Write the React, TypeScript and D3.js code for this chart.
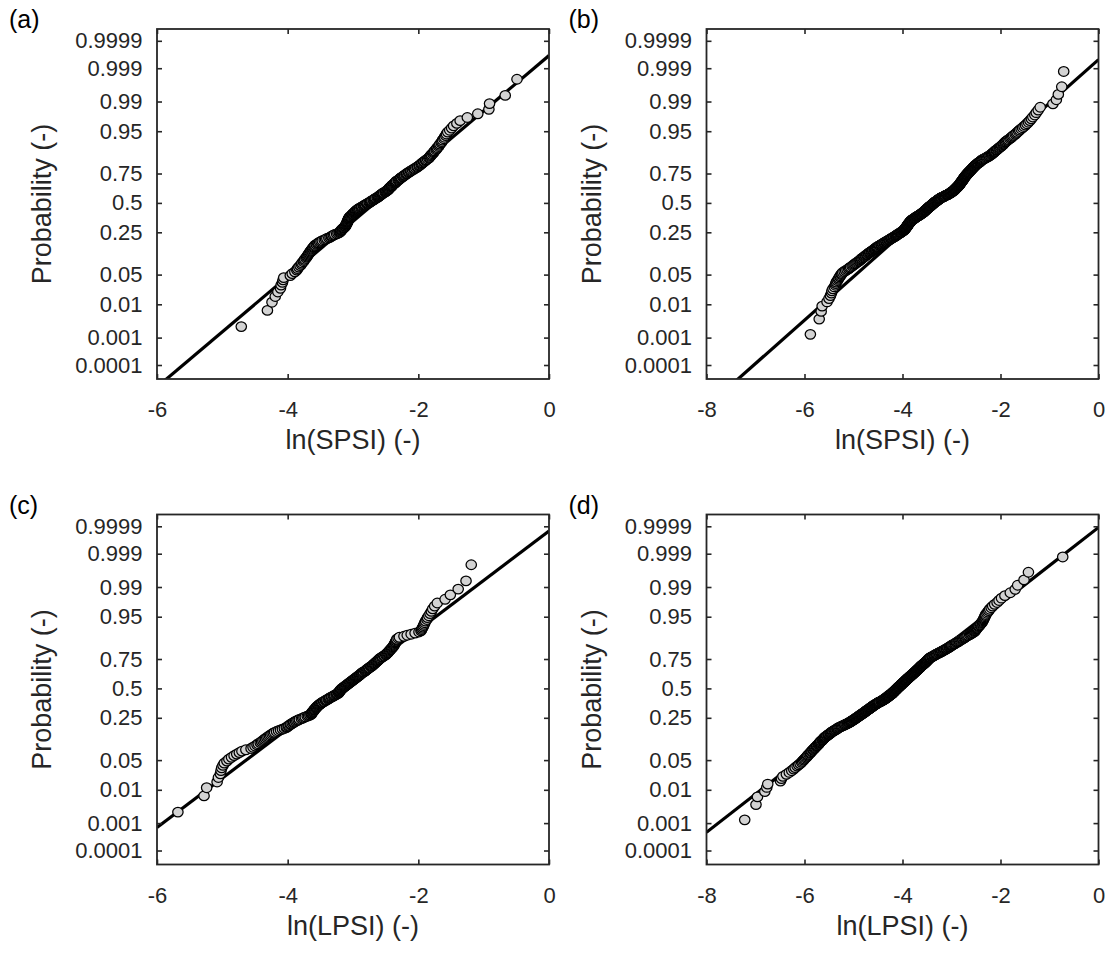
import { useEffect, useRef } from "react";
import * as d3 from "d3";

// probability ticks (normal probability paper)
const probTicks = [0.0001, 0.001, 0.01, 0.05, 0.25, 0.5, 0.75, 0.95, 0.99, 0.999, 0.9999];
const probLabels = ["0.0001", "0.001", "0.01", "0.05", "0.25", "0.5", "0.75", "0.95", "0.99", "0.999", "0.9999"];
const xTicksSix = [-6, -4, -2, 0];
const xTicksEight = [-8, -6, -4, -2, 0];

const panelTags = ["(a)", "(b)", "(c)", "(d)"];
const xTitles = ["ln(SPSI) (-)", "ln(SPSI) (-)", "ln(LPSI) (-)", "ln(LPSI) (-)"];
const xMins = [-6, -8, -6, -8];

// fitted reference line (mean, sd of ln values)
const fitMu = [-2.667, -3.3, -3.185, -4.224];
const fitSigma = [0.789, 1.004, 0.882, 1.144];

// sorted ln(SPSI), dataset 1
const spsiA = [
  -4.71, -4.31, -4.24, -4.19, -4.15, -4.11, -4.10, -4.08, -4.07, -4.06,
  -3.96, -3.93, -3.89, -3.86, -3.85, -3.83, -3.81, -3.79, -3.78, -3.76,
  -3.75, -3.74, -3.72, -3.71, -3.70, -3.69, -3.68, -3.67, -3.66, -3.65,
  -3.64, -3.63, -3.62, -3.61, -3.60, -3.59, -3.58, -3.56, -3.54, -3.53,
  -3.51, -3.49, -3.47, -3.44, -3.42, -3.40, -3.37, -3.35, -3.33, -3.32,
  -3.30, -3.28, -3.25, -3.23, -3.21, -3.20, -3.19, -3.18, -3.18, -3.17,
  -3.16, -3.15, -3.14, -3.13, -3.12, -3.12, -3.11, -3.11, -3.10, -3.10,
  -3.09, -3.09, -3.09, -3.08, -3.08, -3.08, -3.07, -3.07, -3.07, -3.06,
  -3.06, -3.05, -3.05, -3.04, -3.03, -3.02, -3.01, -3.00, -3.00, -2.99,
  -2.98, -2.97, -2.96, -2.96, -2.95, -2.94, -2.93, -2.92, -2.91, -2.90,
  -2.88, -2.87, -2.86, -2.84, -2.83, -2.82, -2.81, -2.79, -2.78, -2.77,
  -2.75, -2.74, -2.73, -2.72, -2.71, -2.69, -2.68, -2.67, -2.66, -2.65,
  -2.63, -2.62, -2.61, -2.60, -2.59, -2.58, -2.57, -2.56, -2.55, -2.54,
  -2.53, -2.51, -2.50, -2.49, -2.48, -2.47, -2.46, -2.45, -2.45, -2.44,
  -2.43, -2.42, -2.41, -2.41, -2.40, -2.39, -2.38, -2.37, -2.36, -2.35,
  -2.34, -2.34, -2.33, -2.31, -2.30, -2.29, -2.28, -2.27, -2.26, -2.24,
  -2.23, -2.22, -2.21, -2.19, -2.18, -2.17, -2.15, -2.14, -2.12, -2.11,
  -2.09, -2.07, -2.06, -2.04, -2.02, -2.01, -1.99, -1.98, -1.96, -1.95,
  -1.94, -1.92, -1.91, -1.89, -1.88, -1.86, -1.84, -1.83, -1.82, -1.81,
  -1.80, -1.78, -1.77, -1.76, -1.75, -1.73, -1.72, -1.71, -1.69, -1.68,
  -1.67, -1.65, -1.64, -1.63, -1.61, -1.60, -1.58, -1.57, -1.55, -1.52,
  -1.49, -1.46, -1.41, -1.36, -1.25, -1.09, -0.92, -0.91, -0.67, -0.49,
];

// sorted ln(SPSI), dataset 2
const spsiB = [
  -5.88, -5.70, -5.66, -5.64, -5.54, -5.50, -5.47, -5.45, -5.44,
  -5.42, -5.39, -5.37, -5.36, -5.35, -5.33, -5.31, -5.30,
  -5.28, -5.27, -5.25, -5.24, -5.22, -5.19, -5.16, -5.13, -5.10,
  -5.08, -5.06, -5.03, -5.01, -4.99, -4.97, -4.95, -4.93, -4.91, -4.89, -4.87, -4.86,
  -4.84, -4.83, -4.81, -4.79, -4.78, -4.76, -4.75,
  -4.73, -4.72, -4.70, -4.69, -4.67, -4.66, -4.64, -4.63,
  -4.61, -4.60, -4.58, -4.57, -4.56, -4.55, -4.53, -4.52, -4.51,
  -4.49, -4.47, -4.46, -4.44, -4.43, -4.41, -4.40, -4.38, -4.37, -4.36,
  -4.34, -4.33, -4.31, -4.30, -4.28, -4.27, -4.26, -4.24, -4.23, -4.22, -4.21,
  -4.19, -4.18, -4.17, -4.15, -4.14, -4.13, -4.12, -4.11, -4.10, -4.09, -4.08,
  -4.06, -4.05, -4.04, -4.03, -4.02, -4.01, -4.00, -3.99, -3.98, -3.97, -3.96, -3.96, -3.95,
  -3.95, -3.94, -3.94, -3.93, -3.93, -3.92, -3.92, -3.91, -3.91, -3.90, -3.90, -3.89, -3.89,
  -3.89, -3.88, -3.88, -3.87, -3.87, -3.86, -3.86, -3.85, -3.85, -3.84, -3.84, -3.83, -3.83, -3.82,
  -3.82, -3.81, -3.80, -3.79, -3.78, -3.77, -3.76, -3.75, -3.74, -3.74, -3.73, -3.72, -3.71, -3.70, -3.69,
  -3.68, -3.67, -3.66, -3.65, -3.64, -3.63, -3.63, -3.62, -3.61, -3.60, -3.59, -3.58, -3.58, -3.57, -3.56,
  -3.56, -3.55, -3.54, -3.54, -3.53, -3.52, -3.52, -3.51, -3.51, -3.50, -3.49, -3.49, -3.48, -3.48, -3.47,
  -3.46, -3.46, -3.45, -3.44, -3.43, -3.43, -3.42, -3.41, -3.41, -3.40, -3.39, -3.39, -3.38, -3.37, -3.37, -3.36,
  -3.36, -3.35, -3.34, -3.33, -3.32, -3.32, -3.31, -3.30, -3.29, -3.28, -3.28, -3.27, -3.26, -3.25, -3.25, -3.24,
  -3.23, -3.22, -3.21, -3.20, -3.18, -3.17, -3.16, -3.15, -3.14, -3.13, -3.12, -3.10, -3.09, -3.08, -3.07,
  -3.06, -3.05, -3.04, -3.03, -3.02, -3.01, -3.00, -3.00, -2.99, -2.98, -2.97, -2.96, -2.95, -2.95, -2.94,
  -2.94, -2.93, -2.92, -2.92, -2.91, -2.91, -2.90, -2.89, -2.89, -2.88, -2.88, -2.87, -2.86, -2.86, -2.85,
  -2.85, -2.84, -2.84, -2.83, -2.83, -2.82, -2.82, -2.82, -2.81, -2.81, -2.80, -2.80, -2.79, -2.79,
  -2.78, -2.78, -2.77, -2.77, -2.76, -2.76, -2.76, -2.75, -2.75, -2.74, -2.74, -2.73, -2.73,
  -2.72, -2.72, -2.71, -2.71, -2.70, -2.69, -2.69, -2.68, -2.68, -2.67, -2.66, -2.66, -2.65,
  -2.64, -2.64, -2.63, -2.62, -2.61, -2.61, -2.60, -2.59, -2.59, -2.58, -2.57,
  -2.57, -2.56, -2.55, -2.54, -2.53, -2.53, -2.52, -2.51, -2.50, -2.49, -2.48,
  -2.47, -2.46, -2.45, -2.43, -2.42, -2.41, -2.40, -2.39, -2.38, -2.37,
  -2.35, -2.33, -2.31, -2.29, -2.28, -2.26, -2.24, -2.23, -2.21,
  -2.19, -2.18, -2.17, -2.16, -2.14, -2.13, -2.12, -2.11,
  -2.09, -2.08, -2.06, -2.05, -2.03, -2.02, -2.00,
  -1.98, -1.97, -1.95, -1.94, -1.93, -1.91, -1.90,
  -1.88, -1.86, -1.84, -1.81, -1.79, -1.77, -1.75, -1.73, -1.70, -1.68,
  -1.66, -1.63, -1.61, -1.58, -1.55, -1.52, -1.49, -1.46, -1.43, -1.40, -1.37, -1.34,
  -1.30, -1.27, -1.23, -1.19, -0.93, -0.86, -0.82, -0.75, -0.71,
];

// sorted ln(LPSI), dataset 1
const lpsiC = [
  -5.68, -5.28, -5.24, -5.08, -5.06, -5.03, -5.02, -5.01, -4.99, -4.97,
  -4.93, -4.90, -4.86, -4.82, -4.78, -4.74, -4.70, -4.64, -4.56, -4.53,
  -4.50, -4.47, -4.45, -4.42, -4.40, -4.38, -4.36, -4.34, -4.32, -4.30,
  -4.28, -4.26, -4.24, -4.22, -4.20, -4.17, -4.14, -4.11, -4.08, -4.05,
  -4.02, -4.01, -3.99, -3.98, -3.96, -3.95, -3.93, -3.91, -3.90, -3.88,
  -3.86, -3.84, -3.82, -3.79, -3.77, -3.75, -3.73, -3.70, -3.68, -3.66,
  -3.64, -3.64, -3.63, -3.63, -3.62, -3.61, -3.61, -3.60, -3.59, -3.59,
  -3.58, -3.57, -3.56, -3.56, -3.55, -3.54, -3.53, -3.52, -3.51, -3.50,
  -3.49, -3.48, -3.47, -3.45, -3.44, -3.42, -3.41, -3.40, -3.38, -3.37,
  -3.36, -3.35, -3.33, -3.32, -3.30, -3.29, -3.28, -3.26, -3.25, -3.24,
  -3.22, -3.22, -3.21, -3.21, -3.20, -3.20, -3.19, -3.18, -3.18, -3.17,
  -3.16, -3.15, -3.14, -3.13, -3.12, -3.11, -3.10, -3.09, -3.08, -3.07,
  -3.06, -3.05, -3.04, -3.03, -3.02, -3.01, -3.00, -2.99, -2.98, -2.97,
  -2.96, -2.95, -2.94, -2.93, -2.92, -2.91, -2.90, -2.89, -2.88, -2.87,
  -2.86, -2.85, -2.84, -2.82, -2.81, -2.80, -2.79, -2.78, -2.77, -2.76,
  -2.75, -2.73, -2.72, -2.71, -2.70, -2.69, -2.68, -2.67, -2.66, -2.65,
  -2.64, -2.63, -2.62, -2.61, -2.60, -2.59, -2.58, -2.56, -2.55, -2.53,
  -2.52, -2.50, -2.49, -2.48, -2.47, -2.46, -2.45, -2.44, -2.43, -2.42,
  -2.41, -2.40, -2.39, -2.38, -2.37, -2.37, -2.36, -2.35, -2.35, -2.34,
  -2.33, -2.33, -2.31, -2.29, -2.22, -2.17, -2.11, -2.05, -1.99, -1.96,
  -1.95, -1.94, -1.93, -1.92, -1.91, -1.90, -1.89, -1.87, -1.86, -1.84,
  -1.82, -1.80, -1.78, -1.75, -1.71, -1.59, -1.51, -1.39, -1.27, -1.19,
];

// sorted ln(LPSI), dataset 2
const lpsiD = [
  -7.22, -6.99, -6.96, -6.81, -6.77, -6.75, -6.49, -6.47, -6.44,
  -6.37, -6.31, -6.26, -6.22, -6.19, -6.15, -6.12, -6.09,
  -6.06, -6.04, -6.02, -6.00, -5.98, -5.96, -5.94, -5.93, -5.91,
  -5.89, -5.88, -5.86, -5.85, -5.83, -5.82, -5.80, -5.79, -5.78, -5.76, -5.75, -5.74,
  -5.72, -5.71, -5.70, -5.69, -5.68, -5.67, -5.66,
  -5.64, -5.63, -5.62, -5.61, -5.60, -5.59, -5.58, -5.57,
  -5.55, -5.54, -5.52, -5.51, -5.50, -5.48, -5.47, -5.46, -5.45,
  -5.43, -5.42, -5.40, -5.39, -5.37, -5.36, -5.34, -5.33, -5.32, -5.31,
  -5.29, -5.27, -5.25, -5.24, -5.22, -5.20, -5.18, -5.17, -5.15, -5.13, -5.12,
  -5.10, -5.09, -5.08, -5.06, -5.05, -5.04, -5.03, -5.02, -5.00, -4.99, -4.98,
  -4.97, -4.96, -4.95, -4.94, -4.93, -4.92, -4.91, -4.90, -4.89, -4.88, -4.87, -4.86, -4.85,
  -4.84, -4.83, -4.82, -4.81, -4.80, -4.79, -4.78, -4.77, -4.76, -4.75, -4.75, -4.74, -4.73,
  -4.72, -4.71, -4.70, -4.69, -4.68, -4.67, -4.66, -4.66, -4.65, -4.64, -4.63, -4.62, -4.61, -4.60,
  -4.60, -4.59, -4.58, -4.57, -4.56, -4.55, -4.54, -4.53, -4.52, -4.51, -4.50, -4.49, -4.48, -4.47, -4.46,
  -4.44, -4.43, -4.42, -4.41, -4.40, -4.39, -4.38, -4.37, -4.36, -4.35, -4.34, -4.34, -4.33, -4.32, -4.31,
  -4.30, -4.30, -4.29, -4.28, -4.27, -4.27, -4.26, -4.25, -4.24, -4.24, -4.23, -4.22, -4.21, -4.21, -4.20,
  -4.20, -4.19, -4.19, -4.18, -4.17, -4.17, -4.16, -4.16, -4.15, -4.15, -4.14, -4.13, -4.13, -4.12, -4.12, -4.11,
  -4.11, -4.10, -4.09, -4.09, -4.08, -4.08, -4.07, -4.06, -4.06, -4.05, -4.04, -4.04, -4.03, -4.03, -4.02, -4.01,
  -4.01, -4.00, -4.00, -3.99, -3.98, -3.98, -3.97, -3.96, -3.96, -3.95, -3.95, -3.94, -3.93, -3.93, -3.92,
  -3.92, -3.91, -3.90, -3.90, -3.89, -3.88, -3.88, -3.87, -3.86, -3.86, -3.85, -3.84, -3.84, -3.83, -3.82,
  -3.82, -3.81, -3.80, -3.80, -3.79, -3.78, -3.78, -3.77, -3.76, -3.76, -3.75, -3.74, -3.74, -3.73, -3.72,
  -3.72, -3.71, -3.70, -3.70, -3.69, -3.68, -3.68, -3.67, -3.66, -3.66, -3.65, -3.64, -3.64, -3.63,
  -3.63, -3.62, -3.61, -3.60, -3.60, -3.59, -3.58, -3.57, -3.56, -3.56, -3.55, -3.54, -3.53,
  -3.53, -3.52, -3.51, -3.51, -3.50, -3.49, -3.49, -3.48, -3.47, -3.46, -3.46, -3.45, -3.44,
  -3.43, -3.42, -3.40, -3.39, -3.38, -3.36, -3.35, -3.34, -3.32, -3.31, -3.30,
  -3.28, -3.26, -3.25, -3.23, -3.22, -3.20, -3.19, -3.17, -3.16, -3.14, -3.13,
  -3.11, -3.10, -3.08, -3.07, -3.05, -3.04, -3.02, -3.01, -3.00, -2.99,
  -2.97, -2.95, -2.93, -2.92, -2.90, -2.89, -2.87, -2.85, -2.84,
  -2.82, -2.80, -2.78, -2.77, -2.75, -2.73, -2.72, -2.70,
  -2.68, -2.66, -2.63, -2.61, -2.59, -2.57, -2.55,
  -2.53, -2.52, -2.51, -2.50, -2.49, -2.48, -2.47,
  -2.45, -2.44, -2.42, -2.41, -2.40, -2.38, -2.37, -2.36, -2.35, -2.34,
  -2.33, -2.32, -2.31, -2.30, -2.28, -2.26, -2.24, -2.22, -2.19, -2.16, -2.12, -2.07,
  -2.03, -1.98, -1.91, -1.80, -1.70, -1.65, -1.52, -1.43, -0.73,
];

const FONT = "'Liberation Sans', Arial, Helvetica, sans-serif";
const INK = "#262626";
const COL_LEFT = [157, 706.5];
const ROW_TOP = [29, 514.5];
const PLOT_W = 392;
const PLOT_H = 350;
const Z_DOMAIN = [-4.04, 3.99];

// inverse of the standard normal cdf (Acklam)
function norminv(p: number): number {
  const a = [-39.69683028665376, 220.9460984245205, -275.9285104469687, 138.357751867269, -30.66479806614716, 2.506628277459239];
  const b = [-54.47609879822406, 161.5858368580409, -155.6989798598866, 66.80131188771972, -13.28068155288572];
  const c = [-0.007784894002430293, -0.3223964580411365, -2.400758277161838, -2.549732539343734, 4.374664141464968, 2.938163982698783];
  const d = [0.007784695709041462, 0.3224671290700398, 2.445134137142996, 3.754408661907416];
  const plow = 0.02425;
  if (p < plow) {
    const q = Math.sqrt(-2 * Math.log(p));
    return (((((c[0] * q + c[1]) * q + c[2]) * q + c[3]) * q + c[4]) * q + c[5]) /
      ((((d[0] * q + d[1]) * q + d[2]) * q + d[3]) * q + 1);
  }
  if (p <= 1 - plow) {
    const q = p - 0.5;
    const r = q * q;
    return ((((((a[0] * r + a[1]) * r + a[2]) * r + a[3]) * r + a[4]) * r + a[5]) * q) /
      (((((b[0] * r + b[1]) * r + b[2]) * r + b[3]) * r + b[4]) * r + 1);
  }
  const q = Math.sqrt(-2 * Math.log(1 - p));
  return -(((((c[0] * q + c[1]) * q + c[2]) * q + c[3]) * q + c[4]) * q + c[5]) /
    ((((d[0] * q + d[1]) * q + d[2]) * q + d[3]) * q + 1);
}

const App = () => {
  const svgRef = useRef(null);

  useEffect(() => {
    const svg = d3.select(svgRef.current);
    svg.selectAll("*").remove();

    const series = [spsiA, spsiB, lpsiC, lpsiD];
    const zTicks = probTicks.map(norminv);

    series.forEach((vals, k) => {
      const col = k % 2;
      const row = Math.floor(k / 2);
      const left = COL_LEFT[col];
      const top = ROW_TOP[row];
      const bottom = top + PLOT_H;

      const x = d3.scaleLinear().domain([xMins[k], 0]).range([left, left + PLOT_W]);
      const y = d3.scaleLinear().domain(Z_DOMAIN).range([bottom, top]);
      const xTicks = xMins[k] === -6 ? xTicksSix : xTicksEight;

      const g = svg.append("g");

      const clipId = `clip-${k}`;
      g.append("clipPath")
        .attr("id", clipId)
        .append("rect")
        .attr("x", left)
        .attr("y", top)
        .attr("width", PLOT_W)
        .attr("height", PLOT_H);

      // reference line
      const [x0, x1] = x.domain();
      g.append("line")
        .attr("clip-path", `url(#${clipId})`)
        .attr("x1", x(x0))
        .attr("y1", y((x0 - fitMu[k]) / fitSigma[k]))
        .attr("x2", x(x1))
        .attr("y2", y((x1 - fitMu[k]) / fitSigma[k]))
        .attr("stroke", "#000")
        .attr("stroke-width", 3.2);

      // data points at plotting positions (i - 0.5) / n
      const n = vals.length;
      g.append("g")
        .selectAll("ellipse")
        .data(vals)
        .join("ellipse")
        .attr("cx", (d) => x(d))
        .attr("cy", (d, i) => y(norminv((i + 0.5) / n)))
        .attr("rx", 5.2)
        .attr("ry", 4.8)
        .attr("fill", "#d3d3d3")
        .attr("stroke", "#000")
        .attr("stroke-width", 1.25);

      // axes, ticks pointing inwards
      const styleAxis = (sel) => {
        sel.select(".domain").remove();
        sel.selectAll(".tick line").attr("stroke", INK).attr("stroke-width", 1.6);
        sel.selectAll(".tick text").attr("fill", INK).attr("font-family", FONT).attr("font-size", 22);
      };

      g.append("g")
        .attr("transform", `translate(${left},0)`)
        .call(d3.axisLeft(y).tickValues(zTicks).tickFormat((d, i) => probLabels[i]).tickSize(-5).tickPadding(14.5))
        .call(styleAxis);
      g.append("g")
        .attr("transform", `translate(${left + PLOT_W},0)`)
        .call(d3.axisRight(y).tickValues(zTicks).tickFormat(() => "").tickSize(-5))
        .call(styleAxis);
      g.append("g")
        .attr("transform", `translate(0,${bottom})`)
        .call(d3.axisBottom(x).tickValues(xTicks).tickFormat((d) => String(d)).tickSize(-5).tickPadding(22.5))
        .call(styleAxis);
      g.append("g")
        .attr("transform", `translate(0,${top})`)
        .call(d3.axisTop(x).tickValues(xTicks).tickFormat(() => "").tickSize(-5))
        .call(styleAxis);

      g.append("rect")
        .attr("x", left)
        .attr("y", top)
        .attr("width", PLOT_W)
        .attr("height", PLOT_H)
        .attr("fill", "none")
        .attr("stroke", INK)
        .attr("stroke-width", 1.8);

      // titles
      g.append("text")
        .attr("x", left + PLOT_W / 2)
        .attr("y", bottom + 70)
        .attr("text-anchor", "middle")
        .attr("font-family", FONT)
        .attr("font-size", 27)
        .attr("fill", INK)
        .text(xTitles[k]);

      g.append("text")
        .attr("transform", `translate(${left - 106},${top + PLOT_H / 2}) rotate(-90)`)
        .attr("text-anchor", "middle")
        .attr("font-family", FONT)
        .attr("font-size", 27)
        .attr("fill", INK)
        .text("Probability (-)");

      g.append("text")
        .attr("x", col === 0 ? 9 : 568.5)
        .attr("y", top - 1)
        .attr("font-family", FONT)
        .attr("font-size", 25)
        .attr("fill", "#000")
        .text(panelTags[k]);
    });
  }, []);

  return (
    <svg
      ref={svgRef}
      width={1111}
      height={954}
      style={{ position: "absolute", left: 0, top: 0, background: "#fff" }}
    />
  );
};

export default App;
